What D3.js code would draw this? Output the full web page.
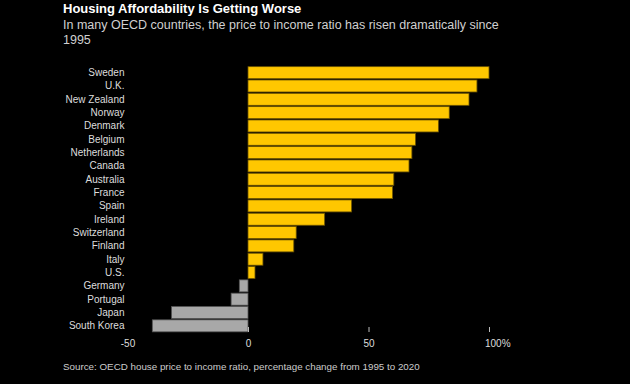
<!DOCTYPE html>
<meta charset="utf-8">
<script src="https://d3js.org/d3.v7.min.js"></script>
<style>
  body { margin: 0; background: #000; }
  text { font-family: "Liberation Sans", Arial, sans-serif; }
</style>
<div id="chart"></div>
<script>

// countries, top to bottom
var countries = ["Sweden", "U.K.", "New Zealand", "Norway", "Denmark", "Belgium",
  "Netherlands", "Canada", "Australia", "France", "Spain", "Ireland",
  "Switzerland", "Finland", "Italy", "U.S.", "Germany", "Portugal", "Japan", "South Korea"];

// percentage change in price to income ratio, 1995 to 2020
var change = [100, 95, 91.7, 83.5, 79, 69.5, 68, 66.8, 60.5, 60, 43, 31.8,
  20, 19, 6.2, 2.9, -3.6, -7, -31.7, -39.7];

var ticks = [-50, 0, 50, 100];
var tickLabels = ["-50", "0", "50", "100%"];

var data = countries.map(function(c, i) { return {name: c, value: change[i]}; });

var width = 630, height = 384;

var svg = d3.select("#chart")
  .append("svg")
    .attr("width", width)
    .attr("height", height)
    .style("background", "#000");

var x = d3.scaleLinear()
  .domain([-50, 100])
  .range([127.5, 489]);

var y = d3.scaleBand()
  .domain(countries)
  .range([66, 332.5])
  .paddingInner(0.1)
  .paddingOuter(0.05);

// title + subtitle
svg.append("text")
  .attr("x", 63).attr("y", 13)
  .style("font-size", "13px")
  .style("font-weight", "bold")
  .attr("fill", "#fff")
  .text("Housing Affordability Is Getting Worse");

svg.append("text")
  .attr("x", 63).attr("y", 28.5)
  .style("font-size", "12.5px")
  .attr("fill", "#d0d0d0")
  .text("In many OECD countries, the price to income ratio has risen dramatically since");

svg.append("text")
  .attr("x", 63).attr("y", 43.5)
  .style("font-size", "12.5px")
  .attr("fill", "#d0d0d0")
  .text("1995");

// bars
svg.append("g")
  .selectAll("rect")
  .data(data)
  .enter().append("rect")
    .attr("x", function(d) { return x(Math.min(0, d.value)); })
    .attr("y", function(d) { return y(d.name); })
    .attr("width", function(d) { return Math.abs(x(d.value) - x(0)); })
    .attr("height", y.bandwidth())
    .attr("fill", function(d) { return d.value >= 0 ? "#ffc700" : "#a8a8a8"; })
    .attr("stroke", function(d) { return d.value >= 0 ? "#6b5300" : "#555"; })
    .attr("stroke-width", 0.8);

// country labels
svg.append("g")
  .selectAll("text")
  .data(data)
  .enter().append("text")
    .attr("x", 124.5)
    .attr("y", function(d) { return y(d.name) + y.bandwidth() / 2; })
    .attr("dy", "0.35em")
    .attr("text-anchor", "end")
    .style("font-size", "10px")
    .attr("fill", "#ddd")
    .text(function(d) { return d.name; });

// x axis
var xAxis = d3.axisBottom(x)
  .tickValues(ticks)
  .tickSize(5)
  .tickFormat(function(d, i) { return tickLabels[i]; });

var gx = svg.append("g")
  .attr("transform", "translate(0,327)")
  .call(xAxis);
gx.select(".domain").remove();
gx.selectAll(".tick line").attr("stroke", "#bbb");
gx.selectAll(".tick").filter(function(d) { return d == -50; }).select("line").remove();
gx.selectAll(".tick text")
  .attr("y", 12.5)
  .attr("fill", "#ddd")
  .style("font-size", "10px")
  .style("font-family", "'Liberation Sans', Arial, sans-serif");
gx.selectAll(".tick").filter(function(d) { return d == 100; }).select("text")
  .attr("text-anchor", "start")
  .attr("x", -4.5);

// source
svg.append("text")
  .attr("x", 63).attr("y", 370)
  .style("font-size", "9.8px")
  .attr("fill", "#ccc")
  .text("Source: OECD house price to income ratio, percentage change from 1995 to 2020");

</script>
